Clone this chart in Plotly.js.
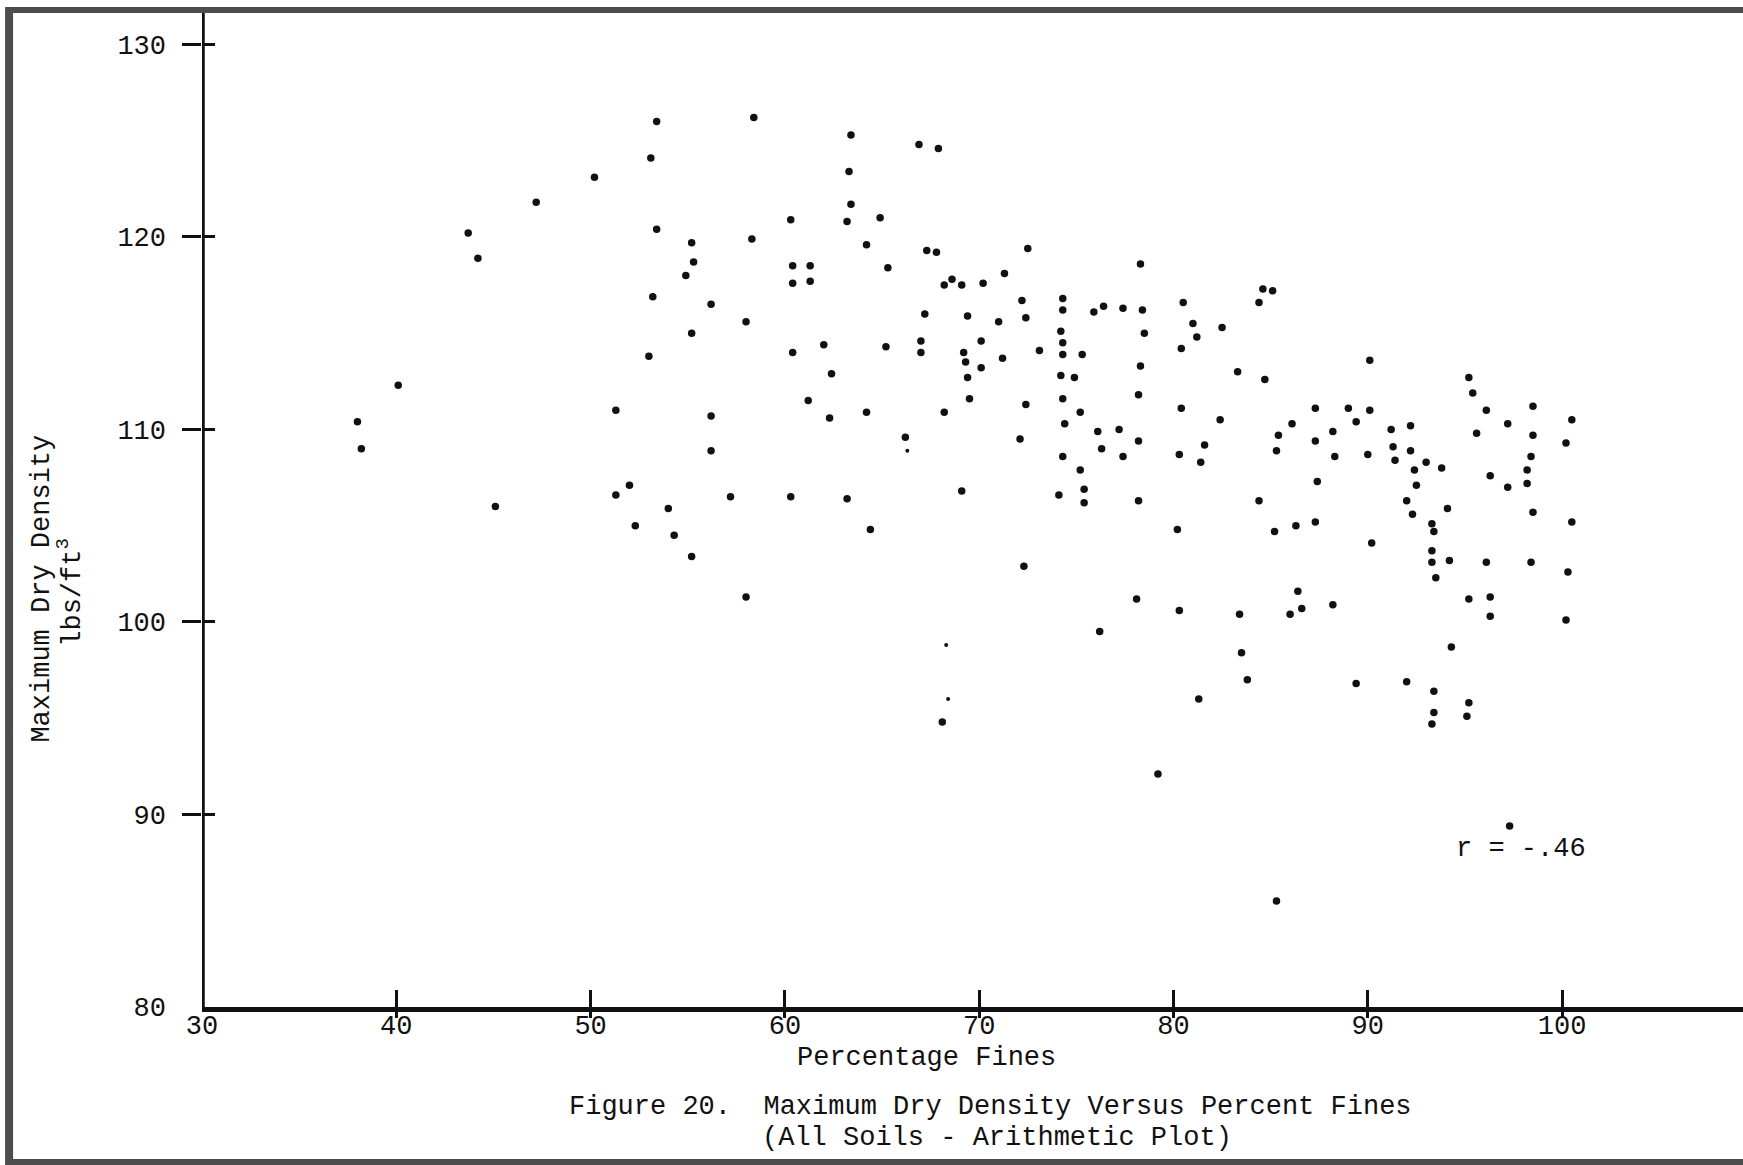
<!DOCTYPE html>
<html>
<head>
<meta charset="utf-8">
<script src="https://cdn.plot.ly/plotly-3.0.1.min.js"></script>
<style>
  html, body { margin: 0; padding: 0; background: #ffffff; }
  #chart { width: 1743px; height: 1165px; }
</style>
</head>
<body>
<div id="chart"></div>
<script>
// Percentage fines (x) and maximum dry density in lbs/ft^3 (y), one entry per soil sample
const percentFines = [
  38.0, 38.2, 40.1, 43.7, 44.2, 45.1, 47.2,
  53.4, 58.4, 53.1, 50.2, 60.3, 53.4, 58.3, 55.2, 55.3, 60.4, 61.3, 54.9, 60.4, 61.3,
  53.2, 56.2, 58.0, 55.2, 62.0, 53.0, 60.4, 62.4, 61.2, 51.3, 62.3, 56.2, 56.2, 52.0,
  51.3, 57.2, 60.3,
  54.0, 52.3, 54.3, 55.2, 58.0,
  63.4, 66.9, 67.9, 63.3, 63.4, 63.2, 64.9, 64.2, 67.3, 67.8, 72.5, 65.3, 71.3, 68.6,
  68.2, 69.1, 70.2, 72.2, 74.3, 74.3, 67.2, 69.4, 71.0, 72.4, 74.2, 67.0, 70.1, 74.3,
  65.2, 67.0, 69.2, 73.1, 74.3, 75.3, 69.3, 71.2, 70.1, 69.4, 74.2, 74.9, 69.5, 74.3,
  64.2, 68.2, 72.4, 75.2, 74.4, 66.2, 72.1, 74.3, 75.2, 75.4, 74.1, 69.1, 63.2, 75.4,
  64.4, 72.3, 68.1,
  78.3, 84.6, 85.1, 84.4, 80.5, 75.9, 76.4, 77.4, 78.4, 81.0, 82.5, 78.5, 81.2, 80.4,
  78.3, 83.3, 84.7, 78.2, 80.4, 87.3, 82.4, 86.1, 76.1, 77.2, 88.2, 85.4, 78.2, 87.3,
  76.3, 81.6, 88.3, 77.4, 80.3, 85.3, 81.4, 87.4, 78.2, 84.4,
  80.2, 85.2, 86.3, 87.3, 86.4, 78.1, 80.3, 83.4, 86.6, 86.0, 88.2, 76.2, 83.5, 83.8,
  81.3, 79.2, 85.3,
  90.1, 95.2, 95.4, 89.0, 90.1, 98.5, 96.1, 89.4, 100.5, 91.2, 92.2, 97.2, 95.6, 98.5,
  100.2, 91.3, 92.2, 90.0, 91.4, 93.0, 92.4, 93.8, 98.4, 98.2, 96.3, 97.2, 98.2, 92.5,
  92.0,
  92.3, 94.1, 98.5, 100.5, 93.3, 93.4, 90.2, 93.3, 93.3, 94.2, 96.1, 98.4, 100.3, 93.5,
  95.2, 96.3, 96.3, 100.2, 94.3, 89.4, 92.0, 93.4, 95.2, 93.4, 95.1, 93.3, 97.3
];
const maxDryDensity = [
  110.4, 109.0, 112.3, 120.2, 118.9, 106.0, 121.8,
  126.0, 126.2, 124.1, 123.1, 120.9, 120.4, 119.9, 119.7, 118.7, 118.5, 118.5, 118.0, 117.6, 117.7,
  116.9, 116.5, 115.6, 115.0, 114.4, 113.8, 114.0, 112.9, 111.5, 111.0, 110.6, 110.7, 108.9, 107.1,
  106.6, 106.5, 106.5,
  105.9, 105.0, 104.5, 103.4, 101.3,
  125.3, 124.8, 124.6, 123.4, 121.7, 120.8, 121.0, 119.6, 119.3, 119.2, 119.4, 118.4, 118.1, 117.8,
  117.5, 117.5, 117.6, 116.7, 116.8, 116.2, 116.0, 115.9, 115.6, 115.8, 115.1, 114.6, 114.6, 114.5,
  114.3, 114.0, 114.0, 114.1, 113.9, 113.9, 113.5, 113.7, 113.2, 112.7, 112.8, 112.7, 111.6, 111.6,
  110.9, 110.9, 111.3, 110.9, 110.3, 109.6, 109.5, 108.6, 107.9, 106.9, 106.6, 106.8, 106.4, 106.2,
  104.8, 102.9, 94.8,
  118.6, 117.3, 117.2, 116.6, 116.6, 116.1, 116.4, 116.3, 116.2, 115.5, 115.3, 115.0, 114.8, 114.2,
  113.3, 113.0, 112.6, 111.8, 111.1, 111.1, 110.5, 110.3, 109.9, 110.0, 109.9, 109.7, 109.4, 109.4,
  109.0, 109.2, 108.6, 108.6, 108.7, 108.9, 108.3, 107.3, 106.3, 106.3,
  104.8, 104.7, 105.0, 105.2, 101.6, 101.2, 100.6, 100.4, 100.7, 100.4, 100.9, 99.5, 98.4, 97.0,
  96.0, 92.1, 85.5,
  113.6, 112.7, 111.9, 111.1, 111.0, 111.2, 111.0, 110.4, 110.5, 110.0, 110.2, 110.3, 109.8, 109.7,
  109.3, 109.1, 108.9, 108.7, 108.4, 108.3, 107.9, 108.0, 108.6, 107.9, 107.6, 107.0, 107.2, 107.1,
  106.3,
  105.6, 105.9, 105.7, 105.2, 105.1, 104.7, 104.1, 103.7, 103.1, 103.2, 103.1, 103.1, 102.6, 102.3,
  101.2, 101.3, 100.3, 100.1, 98.7, 96.8, 96.9, 96.4, 95.8, 95.3, 95.1, 94.7, 89.4
];

// Faintly printed samples
const faintFines = [66.3, 68.3, 68.4];
const faintDensity = [108.9, 98.8, 96.0];

// Axis ticks
const xTickValues = [30, 40, 50, 60, 70, 80, 90, 100];
const xTickLabels = ['30', '40', '50', '60', '70', '80', '90', '100'];
const xTickMarks = [40, 50, 60, 70, 80, 90, 100];
const yTickValues = [80, 90, 100, 110, 120, 130];
const yTickLabels = ['80', '90', '100', '110', '120', '130'];
const yTickMarks = [90, 100, 110, 120, 130];

const correlationText = 'r = -.46';

const INK = '#111111';
const FONT = 'Liberation Mono, Courier New, monospace';
const X_RANGE = [30, 109.31];
const Y_RANGE = [80, 131.79];

const traces = [
  {
    type: 'scatter', mode: 'markers',
    x: percentFines, y: maxDryDensity,
    marker: { color: INK, size: 7.5, line: { width: 0 } },
    hoverinfo: 'x+y', showlegend: false, cliponaxis: false
  },
  {
    type: 'scatter', mode: 'markers',
    x: faintFines, y: faintDensity,
    marker: { color: INK, size: 4, line: { width: 0 } },
    hoverinfo: 'x+y', showlegend: false
  },
  // carriers for the tick-mark axes
  { type: 'scatter', x: [], y: [], xaxis: 'x2', yaxis: 'y', showlegend: false, hoverinfo: 'skip' },
  { type: 'scatter', x: [], y: [], xaxis: 'x3', yaxis: 'y', showlegend: false, hoverinfo: 'skip' },
  { type: 'scatter', x: [], y: [], xaxis: 'x', yaxis: 'y2', showlegend: false, hoverinfo: 'skip' },
  { type: 'scatter', x: [], y: [], xaxis: 'x', yaxis: 'y3', showlegend: false, hoverinfo: 'skip' }
];

const tickAxisCommon = {
  showticklabels: false, showline: false, showgrid: false, zeroline: false,
  tickmode: 'array', tickwidth: 3, tickcolor: INK, fixedrange: true
};

const layout = {
  width: 1743, height: 1165,
  margin: { l: 202, r: 0, t: 10, b: 158, pad: 0 },
  paper_bgcolor: '#ffffff', plot_bgcolor: '#ffffff',
  font: { family: FONT, size: 27, color: INK },
  showlegend: false,
  xaxis: {
    range: X_RANGE, tickmode: 'array', tickvals: xTickValues, ticktext: xTickLabels,
    ticks: '', showline: true, linewidth: 4.5, linecolor: INK,
    showgrid: false, zeroline: false, ticklabelstandoff: -10,
    tickfont: { family: FONT, size: 27, color: INK }
  },
  yaxis: {
    range: Y_RANGE, tickmode: 'array', tickvals: yTickValues, ticktext: yTickLabels,
    ticks: '', showline: false,
    showgrid: false, zeroline: false, ticklabelstandoff: 35,
    tickfont: { family: FONT, size: 27, color: INK }
  },
  xaxis2: Object.assign({}, tickAxisCommon, {
    overlaying: 'x', anchor: 'y', range: X_RANGE, tickvals: xTickMarks,
    ticks: 'outside', ticklen: 10
  }),
  xaxis3: Object.assign({}, tickAxisCommon, {
    overlaying: 'x', anchor: 'y', range: X_RANGE, tickvals: xTickMarks,
    ticks: 'inside', ticklen: 17
  }),
  yaxis2: Object.assign({}, tickAxisCommon, {
    overlaying: 'y', anchor: 'x', side: 'left', range: Y_RANGE, tickvals: yTickMarks,
    ticks: 'outside', ticklen: 19
  }),
  yaxis3: Object.assign({}, tickAxisCommon, {
    overlaying: 'y', anchor: 'x', side: 'left', range: Y_RANGE, tickvals: yTickMarks,
    ticks: 'inside', ticklen: 13
  }),
  annotations: [
    {
      text: 'Percentage Fines', xref: 'paper', yref: 'paper',
      x: 0.470, y: -0.051, xanchor: 'center', yanchor: 'middle', showarrow: false,
      font: { family: FONT, size: 27, color: INK }
    },
    {
      text: 'Figure 20.  Maximum Dry Density Versus Percent Fines', xref: 'paper', yref: 'paper',
      x: 0.5117, y: -0.1003, xanchor: 'center', yanchor: 'middle', showarrow: false,
      font: { family: FONT, size: 27, color: INK }
    },
    {
      text: '(All Soils - Arithmetic Plot)', xref: 'paper', yref: 'paper',
      x: 0.5156, y: -0.1315, xanchor: 'center', yanchor: 'middle', showarrow: false,
      font: { family: FONT, size: 27, color: INK }
    },
    {
      text: 'Maximum Dry Density', xref: 'paper', yref: 'paper', textangle: -90,
      x: -0.1038, y: 0.4197, xanchor: 'center', yanchor: 'middle', showarrow: false,
      font: { family: FONT, size: 27, color: INK }
    },
    {
      text: 'lbs/ft<sup>3</sup>', xref: 'paper', yref: 'paper', textangle: -90,
      x: -0.0856, y: 0.4156, xanchor: 'center', yanchor: 'middle', showarrow: false,
      font: { family: FONT, size: 27, color: INK }
    },
    {
      text: correlationText, xref: 'x', yref: 'y',
      x: 97.9, y: 88.2, xanchor: 'center', yanchor: 'middle', showarrow: false,
      font: { family: FONT, size: 27, color: INK }
    }
  ],
  shapes: [
    // vertical axis line, centred on the left edge of the plot
    { type: 'line', xref: 'x', yref: 'paper', x0: X_RANGE[0], x1: X_RANGE[0], y0: -0.003, y1: 1.0,
      line: { color: INK, width: 5.5 } },
    // page frame
    { type: 'line', xref: 'paper', yref: 'paper', x0: -0.1252, x1: -0.1252, y0: -0.16, y1: 1.003,
      line: { color: '#4d4d4d', width: 8 } },
    { type: 'line', xref: 'paper', yref: 'paper', x0: -0.1252, x1: 1.0, y0: 1.0, y1: 1.0,
      line: { color: '#4d4d4d', width: 6 } },
    { type: 'line', xref: 'paper', yref: 'paper', x0: -0.1252, x1: 1.0, y0: -0.1555, y1: -0.1555,
      line: { color: '#4d4d4d', width: 6 } }
  ]
};

Plotly.newPlot('chart', traces, layout, { displayModeBar: false, staticPlot: true });
</script>
</body>
</html>
